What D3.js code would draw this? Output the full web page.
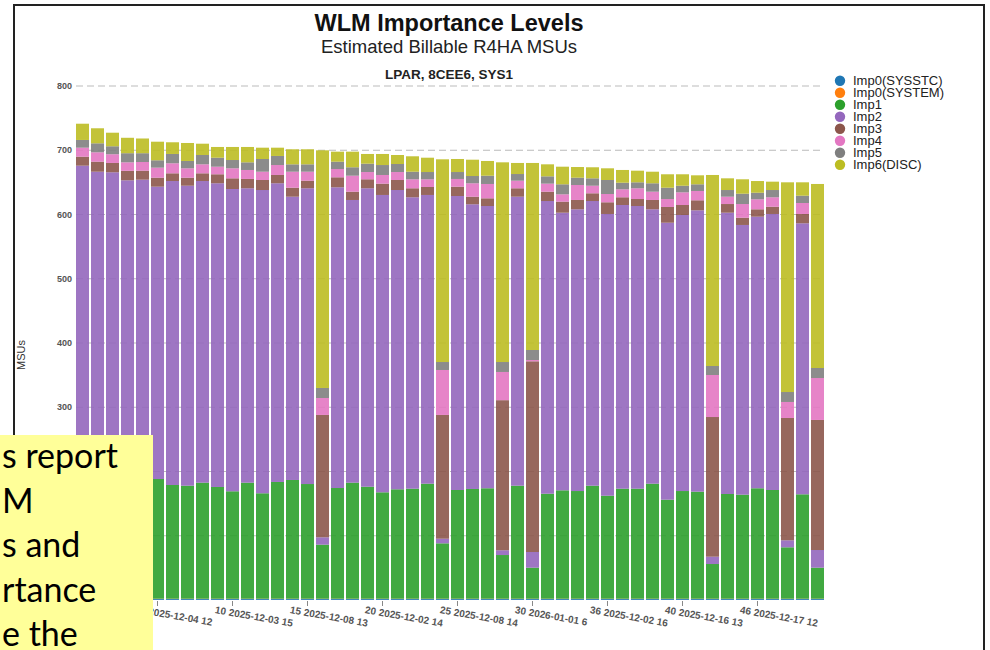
<!DOCTYPE html>
<html><head><meta charset="utf-8">
<script src="https://cdn.jsdelivr.net/npm/d3@7"></script>
<style>body{margin:0;background:#fff;} svg{display:block;font-family:"Liberation Sans",Arial,sans-serif;}</style>
</head><body><svg id="c" width="990" height="650"></svg>
<script>
const categories = [0,1,2,3,4,5,6,7,8,9,10,11,12,13,14,15,16,17,18,19,20,21,22,23,24,25,26,27,28,29,30,31,32,33,34,35,36,37,38,39,40,41,42,43,44,45,46,47,48,49];
const seriesNames = ["Imp0(SYSSTC)","Imp0(SYSTEM)","Imp1","Imp2","Imp3","Imp4","Imp5","Imp6(DISC)"];
const seriesColors = ["#1f77b4","#ff7f0e","#2ca02c","#9467bd","#8c564b","#e377c2","#7f7f7f","#bcbd22"];

const imp0Sysstc = [1.5,1.5,1.5,1.5,1.5,1.5,1.5,1.5,1.5,1.5,1.5,1.5,1.5,1.5,1.5,1.5,1.5,1.5,1.5,1.5,1.5,1.5,1.5,1.5,1.5,1.5,1.5,1.5,1.5,1.5,1.5,1.5,1.5,1.5,1.5,1.5,1.5,1.5,1.5,1.5,1.5,1.5,1.5,1.5,1.5,1.5,1.5,1.5,1.5,1.5];
const imp0System = [0.5,0.5,0.5,0.5,0.5,0.5,0.5,0.5,0.5,0.5,0.5,0.5,0.5,0.5,0.5,0.5,0.5,0.5,0.5,0.5,0.5,0.5,0.5,0.5,0.5,0.5,0.5,0.5,0.5,0.5,0.5,0.5,0.5,0.5,0.5,0.5,0.5,0.5,0.5,0.5,0.5,0.5,0.5,0.5,0.5,0.5,0.5,0.5,0.5,0.5];
const imp1 = [178,174,176,180,173,186.3,177,175.9,180.6,173.9,167.2,180.6,164.1,181.7,184.8,178.5,84.1,172.3,180.6,174.3,165.6,170.3,171.2,179,86.2,169.2,170.8,171.9,68,175.9,48.3,163.4,168.7,167.6,175.9,160.3,171.2,171.2,179,154.1,167.6,166.6,54,163,161.9,171.9,169.2,80,162.5,48.3];
const imp2 = [496,490.6,487.7,471.2,479.2,455,473.1,466.9,469.5,472.7,470.5,458.2,472,464.9,440.9,460.3,11.5,468,440,464.5,462.8,465.8,453.6,449.4,7.2,457.6,443.1,439.3,7.4,449.8,24.4,455.6,432.1,438.5,443.1,438.5,441.6,440,427.1,431.1,429.6,437.9,11.4,437.8,419.8,422.7,429.6,10.9,421.8,27.5];
const imp3 = [14,15.6,14.5,14.8,14,14,12,12.5,12,14,16.6,14.5,15.6,12.9,14,11.8,190.4,15.6,12.9,14,17.6,15.6,14,12.4,192.6,14.5,11.8,12,233.6,13.1,296.8,14.5,17.2,14.5,12,18.2,12,10.9,14.5,24.5,15.6,15.6,217.4,13.5,11.3,11.5,11.3,190.4,14.5,202.4];
const imp4 = [14,14.6,13.6,13.2,13.5,15.6,15.6,14.6,14,11.8,15.6,14,12.9,15.5,24.9,14,26.4,12.9,24.9,11.3,13.5,12.4,14,12,70,12,20.9,22.3,43.9,11.8,2,12.5,11.4,23.3,11.8,12.9,12.4,16.7,12.9,12.4,19.7,14.5,65.4,11.4,21.3,15.6,14.7,24.9,17.1,65.3];
const imp5 = [12,14,12.4,14.2,13.7,11.5,14.5,11.4,14.5,14,12.9,11.9,19.8,14.1,11.5,11.5,15.6,11.4,13.1,13,15.5,12.5,11.8,11.3,12.4,10.8,11.3,12.9,15.5,10.4,15.6,11.4,15.6,11.4,11.5,21.8,10.3,9.3,13.1,17.6,10.3,10.4,14,10.4,16.1,10.2,11.3,15.5,11.4,15.6];
const imp6 = [25.3,23.4,21.1,24,22.9,28.9,18.2,28,17.6,16.7,20.3,23.9,17.6,12.9,23.4,23.4,369.9,15.6,24.3,15.1,17.2,14,24,22.3,315.5,20.3,25.4,22.9,310.8,17.2,291.1,18.7,27.4,16.6,17.2,18.2,19.8,18.1,18,20.9,17.8,14,297.3,18.2,22.4,18.2,13,326.4,20.8,286.4];

const yTicks = [0,100,200,300,400,500,600,700,800];
const xTickIndex = [5,10,15,20,25,30,35,40,45];
const xTickLabels = ["5 2025-12-04 12","10 2025-12-03 15","15 2025-12-08 13","20 2025-12-02 14","25 2025-12-08 14","30 2026-01-01 6","36 2025-12-02 16","40 2025-12-16 13","46 2025-12-17 12"];
const noteLines = ["s report","M","s and","rtance","e the"];

const seriesValues = [imp0Sysstc, imp0System, imp1, imp2, imp3, imp4, imp5, imp6];
const rows = categories.map((c, i) => {
  const r = {cat: c};
  seriesNames.forEach((n, k) => r[n] = seriesValues[k][i]);
  return r;
});

const svg = d3.select("#c");
const x = d3.scaleBand().domain(categories).range([75, 825]).paddingInner(0.133).paddingOuter(0.0667);
const y = d3.scaleLinear().domain([0, 800]).range([600, 86]);
const color = d3.scaleOrdinal().domain(seriesNames).range(seriesColors);

// frame
svg.append("rect").attr("x", 14).attr("y", 5).attr("width", 970).attr("height", 700)
  .attr("fill", "none").attr("stroke", "#222").attr("stroke-width", 2);

// grid
svg.append("g").selectAll("line").data(yTicks.filter(d => d > 0)).join("line")
  .attr("x1", 76).attr("x2", 824).attr("y1", d => y(d)).attr("y2", d => y(d))
  .attr("stroke", "#bbb").attr("stroke-width", 1).attr("stroke-dasharray", "7,4");

svg.append("g").selectAll("text").data(yTicks).join("text")
  .attr("x", 72).attr("y", d => y(d)).attr("dy", "0.35em").attr("text-anchor", "end")
  .attr("font-size", 9).attr("font-weight", "bold").attr("fill", "#555").text(d => d);

// bars
const stacked = d3.stack().keys(seriesNames)(rows);
svg.append("g").selectAll("g").data(stacked).join("g")
  .attr("fill", d => color(d.key)).attr("fill-opacity", 0.9)
  .selectAll("rect").data(d => d).join("rect")
  .attr("x", d => x(d.data.cat)).attr("width", x.bandwidth())
  .attr("y", d => y(d[1])).attr("height", d => y(d[0]) - y(d[1]));

// x axis
const xAxis = d3.axisBottom(x).tickValues(xTickIndex)
  .tickFormat(d => xTickLabels[xTickIndex.indexOf(d)]).tickSize(5).tickSizeOuter(0);
const gx = svg.append("g").attr("transform", "translate(0,601)").call(xAxis);
gx.select(".domain").remove();
gx.selectAll(".tick line").attr("stroke", "#888");
gx.selectAll(".tick text").attr("x", 0).attr("y", 0).attr("dy", 0)
  .attr("text-anchor", "start").attr("transform", "translate(-18,12) rotate(10)")
  .attr("font-size", 10).attr("font-weight", "bold").attr("fill", "#555")
  .attr("font-family", "Liberation Sans, Arial, sans-serif");

// y label
svg.append("text").attr("transform", "translate(25,355) rotate(-90)").attr("text-anchor", "middle")
  .attr("font-size", 11).attr("fill", "#333").text("MSUs");

// titles
svg.append("text").attr("x", 449).attr("y", 31).attr("text-anchor", "middle")
  .attr("font-size", 23.5).attr("font-weight", "bold").attr("fill", "#111").text("WLM Importance Levels");
svg.append("text").attr("x", 449).attr("y", 53).attr("text-anchor", "middle")
  .attr("font-size", 18.5).attr("fill", "#222").text("Estimated Billable R4HA MSUs");
svg.append("text").attr("x", 449).attr("y", 79).attr("text-anchor", "middle")
  .attr("font-size", 13.5).attr("font-weight", "bold").attr("fill", "#222").text("LPAR, 8CEE6, SYS1");

// legend
const lg = svg.append("g").selectAll("g").data(seriesNames).join("g")
  .attr("transform", (d, i) => `translate(840,${80.7 + i * 12})`);
lg.append("circle").attr("r", 5.2).attr("fill", d => color(d));
lg.append("text").attr("x", 13).attr("dy", "0.35em").attr("font-size", 13).attr("fill", "#222").text(d => d);

// note box
svg.append("rect").attr("x", 0).attr("y", 435).attr("width", 153).attr("height", 215).attr("fill", "#ffff99");
svg.append("g").selectAll("text").data(noteLines).join("text")
  .attr("x", 2).attr("y", (d, i) => 468 + i * 44.5)
  .attr("font-family", "Lato, 'Open Sans', sans-serif").attr("font-size", 34).attr("fill", "#000").text(d => d);
</script></body></html>
